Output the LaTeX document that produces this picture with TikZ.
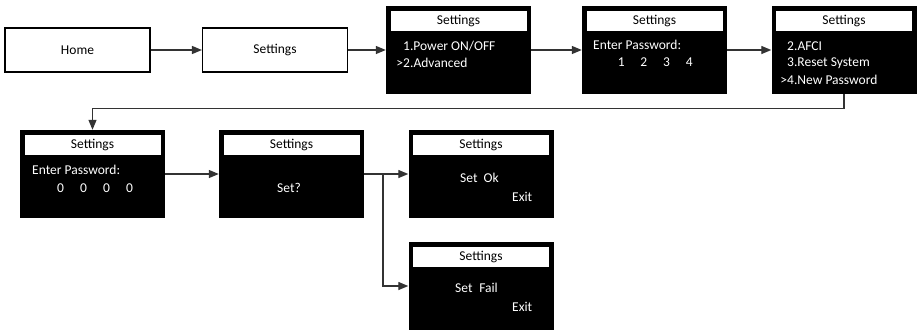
\documentclass[tikz,border=0pt]{standalone}
\usepackage{fontspec}
\setmainfont{Carlito}
\usetikzlibrary{arrows.meta,positioning,calc}
\definecolor{ink}{HTML}{000000}
\definecolor{wire}{HTML}{333333}
\tikzset{
  base/.style={inner sep=0pt, font=\fontsize{13.5}{16}\selectfont},
  menubox/.style={base, draw=ink, line width=1.1pt, fill=white, text=ink, minimum width=145pt, minimum height=44pt},
  screen/.style={base, fill=ink, minimum width=145pt, minimum height=88pt},
  titlebar/.style={base, fill=white, text=ink, anchor=north, minimum width=136pt, minimum height=20pt},
  lcd/.style={base, text=white, anchor=west},
  arr/.style={-{Triangle[length=10pt,width=8pt]}, line width=1.3pt, draw=wire},
}
\begin{document}
\begin{tikzpicture}[x=1pt,y=-1pt]
  \useasboundingbox (0,0) rectangle (917,330);
  % top row
  \node[menubox] (home) at (77.5,50) {Home};
  \node[menubox] (menu) at (275,50) {Settings};
  \node[screen] (s1) at (458.5,50) {};
  \node[screen] (s2) at (654.5,50) {};
  \node[screen] (s3) at (844,50) {};
  % bottom rows
  \node[screen] (s4) at (92.5,174) {};
  \node[screen] (s5) at (291.5,174) {};
  \node[screen] (s6) at (481,174) {};
  \node[screen] (s7) at (481,286) {};
  \foreach \s in {1,...,7} \node[titlebar] (t\s) at ([yshift=-5pt]s\s.north) {Settings};
  % screen texts
  \node[lcd] (pwr) at (403,46) {1.Power ON/OFF};
  \node[lcd] (adv) at (403,63) {\llap{>}2.Advanced};
  \node[lcd] (ask1) at (593,45) {Enter Password:};
  \foreach \d [count=\i] in {1,2,3,4} \node[lcd, anchor=center] (pw\i) at (598.5+22.7*\i,62) {\d};
  \node[lcd] (afci) at (787,46) {2.AFCI};
  \node[lcd] (rst) at (787,63) {3.Reset System};
  \node[lcd] (newpw) at (787,80) {\llap{>}4.New Password};
  \node[lcd] (ask2) at (32,170) {Enter Password:};
  \foreach \d [count=\i] in {0,0,0,0} \node[lcd, anchor=center] (zero\i) at (37.5+23*\i,188) {\d};
  \node[lcd, anchor=center] (setq) at (289,188) {Set?};
  \node[lcd] (ok) at (460,178) {Set\hspace{0.45em}Ok};
  \node[lcd] (exit1) at (512,197) {Exit};
  \node[lcd] (fail) at (455,288) {Set\hspace{0.5em}Fail};
  \node[lcd] (exit2) at (512,307) {Exit};
  % connectors
  \draw[arr] (home) -- (menu);
  \draw[arr] (menu) -- (s1);
  \draw[arr] (s1) -- (s2);
  \draw[arr] (s2) -- (s3);
  \draw[arr] (s3.south) -- ++(0,14) -| (s4.north);
  \draw[arr] (s4) -- (s5);
  \coordinate (split) at (383,174);
  \draw[arr] (s5) -- (s6);
  \draw[arr] (split) |- (s7.west);
\end{tikzpicture}
\end{document}
